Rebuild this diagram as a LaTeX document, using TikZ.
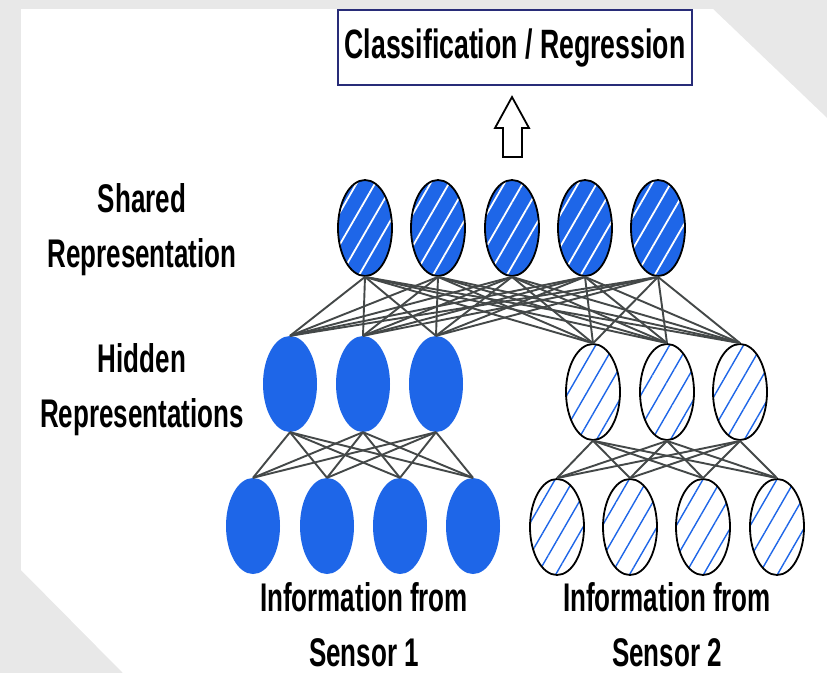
\documentclass[tikz,border=0pt]{standalone}
\usepackage{fontspec}
\newfontfamily\labelfont{Liberation Sans}[FakeStretch=0.65]
\usetikzlibrary{shapes.geometric,patterns.meta}

\definecolor{nodeblue}{RGB}{30,102,232}
\definecolor{linkgrey}{RGB}{68,72,72}
\definecolor{pagegrey}{RGB}{232,232,232}
\definecolor{boxnavy}{RGB}{40,44,120}

\tikzset{
	neuron/.style={ellipse, minimum width=54pt, minimum height=96pt, inner sep=0pt},
	sharednode/.style={neuron, draw=black, line width=1.8pt, preaction={fill=nodeblue},
		pattern={Lines[angle=60, distance=16pt, line width=1.8pt]}, pattern color=white},
	bluenode/.style={neuron, fill=nodeblue},
	hatchnode/.style={neuron, draw=black, line width=1.8pt, preaction={fill=white},
		pattern={Lines[angle=60, distance=16pt, line width=1.4pt]}, pattern color=nodeblue},
	link/.style={draw=linkgrey, line width=1.9pt},
	caption/.style={font=\labelfont\bfseries\fontsize{40}{55}\selectfont, align=center, anchor=base, inner sep=0pt},
	classbox/.style={draw=boxnavy, line width=1.8pt, fill=white, minimum width=354pt, minimum height=75pt,
		inner sep=0pt, font=\labelfont\bfseries\fontsize{41}{50}\selectfont}
}

\begin{document}
\begin{tikzpicture}[x=1pt, y=-1pt]
			%%%%% START %%%%%
			\useasboundingbox (0, 0) rectangle (827, 673);
			\fill[pagegrey] (0, 0) rectangle (827, 673);
			\fill[white] (21, 9) -- (713, 9) -- (827, 118) -- (827, 673) -- (123, 673) -- (21, 570) -- cycle;
			
			\node[classbox] (cls) at (515, 47.5) {Classification / Regression};
			\draw[line width=1.8pt, fill=white] (512, 97) -- (529, 128) -- (522, 128) -- (522, 157)
				-- (503, 157) -- (503, 128) -- (495, 128) -- cycle;
			
			% shared layer
			\foreach \x [count=\i] in {365, 438, 512, 585, 658}
				\node[sharednode] (s\i) at (\x, 228) {};
			
			% hidden layers
			\foreach \x [count=\i] in {290, 363, 436}
				\node[bluenode] (h\i) at (\x, 384) {};
			\foreach \x [count=\i] in {593, 667, 740}
				\node[hatchnode] (g\i) at (\x, 392) {};
			
			% sensor inputs
			\foreach \x [count=\i] in {253, 327, 400, 473}
				\node[bluenode] (a\i) at (\x, 526) {};
			\foreach \x [count=\i] in {557, 630, 703, 777}
				\node[hatchnode] (b\i) at (\x, 527) {};
			
			\foreach \i in {1,...,5}
				\foreach \j in {h1, h2, h3, g1, g2, g3}
					\draw[link] (s\i.south) -- (\j.north);
			\foreach \i in {1,...,3}
				\foreach \j in {1,...,4} {
					\draw[link] (h\i.south) -- (a\j.north);
					\draw[link] (g\i.south) -- (b\j.north);
				}
			
			\node[caption] (lshared) at (142, 267) {Shared\\Representation};
			\node[caption] (lhidden) at (142, 427) {Hidden\\Representations};
			\node[caption] (lsensa) at (364, 666) {Information from\\Sensor 1};
			\node[caption] (lsensb) at (667, 666) {Information from\\Sensor 2};
			%%%%% END %%%%%
\end{tikzpicture}
\end{document}
